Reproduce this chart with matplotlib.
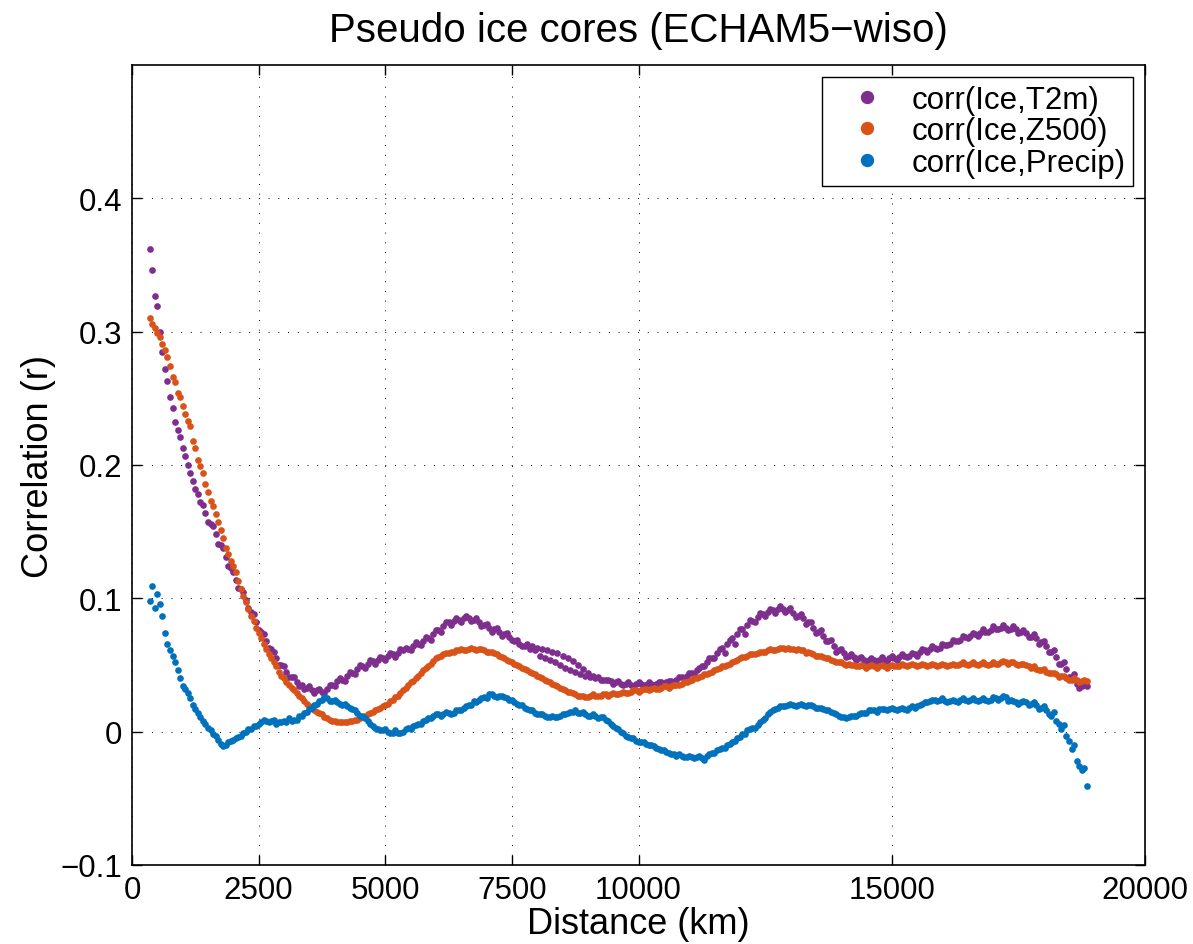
import numpy as np
import matplotlib
matplotlib.use('Agg')
import matplotlib.pyplot as plt

plt.rcParams['font.family'] = ['Liberation Sans', 'DejaVu Sans']

# distance of each pseudo ice core (km), two interleaved sets of sites
distance_a = [
    350, 450, 550, 650, 750, 850, 950, 1050, 1150, 1250,
    1350, 1450, 1550, 1650, 1750, 1850, 1950, 2050, 2150, 2250,
    2350, 2450, 2550, 2650, 2750, 2850, 2950, 3050, 3150, 3250,
    3350, 3450, 3550, 3650, 3750, 3850, 3950, 4050, 4150, 4250,
    4350, 4450, 4550, 4650, 4750, 4850, 4950, 5050, 5150, 5250,
    5350, 5450, 5550, 5650, 5750, 5850, 5950, 6050, 6150, 6250,
    6350, 6450, 6550, 6650, 6750, 6850, 6950, 7050, 7150, 7250,
    7350, 7450, 7550, 7650, 7750, 7850, 7950, 8050, 8150, 8250,
    8350, 8450, 8550, 8650, 8750, 8850, 8950, 9050, 9150, 9250,
    9350, 9450, 9550, 9650, 9750, 9850, 9950, 10050, 10150, 10250,
    10350, 10450, 10550, 10650, 10750, 10850, 10950, 11050, 11150, 11250,
    11350, 11450, 11550, 11650, 11750, 11850, 11950, 12050, 12150, 12250,
    12350, 12450, 12550, 12650, 12750, 12850, 12950, 13050, 13150, 13250,
    13350, 13450, 13550, 13650, 13750, 13850, 13950, 14050, 14150, 14250,
    14350, 14450, 14550, 14650, 14750, 14850, 14950, 15050, 15150, 15250,
    15350, 15450, 15550, 15650, 15750, 15850, 15950, 16050, 16150, 16250,
    16350, 16450, 16550, 16650, 16750, 16850, 16950, 17050, 17150, 17250,
    17350, 17450, 17550, 17650, 17750, 17850, 17950, 18050, 18150, 18250,
    18350, 18450, 18550, 18650, 18750, 18850,
]
distance_b = [
    400, 500, 600, 700, 800, 900, 1000, 1100, 1200, 1300,
    1400, 1500, 1600, 1700, 1800, 1900, 2000, 2100, 2200, 2300,
    2400, 2500, 2600, 2700, 2800, 2900, 3000, 3100, 3200, 3300,
    3400, 3500, 3600, 3700, 3800, 3900, 4000, 4100, 4200, 4300,
    4400, 4500, 4600, 4700, 4800, 4900, 5000, 5100, 5200, 5300,
    5400, 5500, 5600, 5700, 5800, 5900, 6000, 6100, 6200, 6300,
    6400, 6500, 6600, 6700, 6800, 6900, 7000, 7100, 7200, 7300,
    7400, 7500, 7600, 7700, 7800, 7900, 8000, 8100, 8200, 8300,
    8400, 8500, 8600, 8700, 8800, 8900, 9000, 9100, 9200, 9300,
    9400, 9500, 9600, 9700, 9800, 9900, 10000, 10100, 10200, 10300,
    10400, 10500, 10600, 10700, 10800, 10900, 11000, 11100, 11200, 11300,
    11400, 11500, 11600, 11700, 11800, 11900, 12000, 12100, 12200, 12300,
    12400, 12500, 12600, 12700, 12800, 12900, 13000, 13100, 13200, 13300,
    13400, 13500, 13600, 13700, 13800, 13900, 14000, 14100, 14200, 14300,
    14400, 14500, 14600, 14700, 14800, 14900, 15000, 15100, 15200, 15300,
    15400, 15500, 15600, 15700, 15800, 15900, 16000, 16100, 16200, 16300,
    16400, 16500, 16600, 16700, 16800, 16900, 17000, 17100, 17200, 17300,
    17400, 17500, 17600, 17700, 17800, 17900, 18000, 18100, 18200, 18300,
    18400, 18500, 18600, 18700, 18800,
]

# corr(Ice,T2m)
t2m_a = [
    0.362, 0.327, 0.300, 0.272, 0.251, 0.232, 0.221, 0.207, 0.194, 0.182,
    0.172, 0.164, 0.156, 0.148, 0.140, 0.131, 0.123, 0.114, 0.107, 0.099,
    0.090, 0.082, 0.075, 0.068, 0.062, 0.055, 0.050, 0.045, 0.041, 0.037,
    0.035, 0.033, 0.031, 0.031, 0.030, 0.032, 0.035, 0.038, 0.039, 0.042,
    0.044, 0.047, 0.049, 0.051, 0.053, 0.054, 0.055, 0.057, 0.058, 0.059,
    0.061, 0.062, 0.064, 0.066, 0.068, 0.070, 0.073, 0.076, 0.079, 0.082,
    0.083, 0.084, 0.085, 0.085, 0.084, 0.082, 0.080, 0.078, 0.077, 0.075,
    0.073, 0.071, 0.068, 0.066, 0.064, 0.062, 0.061, 0.057, 0.055, 0.054,
    0.052, 0.050, 0.048, 0.046, 0.045, 0.043, 0.042, 0.041, 0.040, 0.039,
    0.039, 0.038, 0.037, 0.036, 0.036, 0.035, 0.036, 0.036, 0.035, 0.036,
    0.036, 0.037, 0.037, 0.038, 0.039, 0.041, 0.042, 0.044, 0.046, 0.049,
    0.052, 0.055, 0.059, 0.063, 0.066, 0.070, 0.073, 0.077, 0.080, 0.083,
    0.086, 0.088, 0.090, 0.091, 0.092, 0.092, 0.091, 0.089, 0.087, 0.085,
    0.082, 0.078, 0.075, 0.072, 0.068, 0.064, 0.061, 0.059, 0.057, 0.056,
    0.055, 0.054, 0.054, 0.054, 0.054, 0.054, 0.055, 0.055, 0.056, 0.057,
    0.057, 0.058, 0.060, 0.061, 0.062, 0.063, 0.063, 0.065, 0.066, 0.068,
    0.069, 0.071, 0.072, 0.073, 0.074, 0.075, 0.076, 0.077, 0.078, 0.078,
    0.077, 0.077, 0.075, 0.074, 0.071, 0.070, 0.067, 0.064, 0.060, 0.056,
    0.051, 0.047, 0.041, 0.036, 0.034, 0.034,
]
t2m_b = [
    0.346, 0.319, 0.285, 0.263, 0.243, 0.226, 0.213, 0.200, 0.188, 0.178,
    0.170, 0.157, 0.154, 0.141, 0.138, 0.124, 0.120, 0.108, 0.105, 0.093,
    0.088, 0.076, 0.073, 0.063, 0.060, 0.050, 0.049, 0.041, 0.041, 0.034,
    0.032, 0.034, 0.029, 0.032, 0.029, 0.035, 0.034, 0.040, 0.038, 0.045,
    0.043, 0.050, 0.048, 0.054, 0.051, 0.056, 0.054, 0.059, 0.056, 0.062,
    0.063, 0.061, 0.067, 0.065, 0.071, 0.069, 0.076, 0.075, 0.082, 0.080,
    0.085, 0.082, 0.087, 0.083, 0.085, 0.079, 0.081, 0.075, 0.078, 0.072,
    0.074, 0.069, 0.069, 0.064, 0.066, 0.064, 0.063, 0.062, 0.061, 0.060,
    0.059, 0.057, 0.055, 0.053, 0.050, 0.047, 0.044, 0.042, 0.041, 0.039,
    0.039, 0.036, 0.038, 0.035, 0.037, 0.034, 0.037, 0.035, 0.037, 0.035,
    0.037, 0.036, 0.038, 0.037, 0.041, 0.040, 0.044, 0.043, 0.048, 0.049,
    0.055, 0.055, 0.062, 0.059, 0.069, 0.066, 0.077, 0.073, 0.084, 0.082,
    0.089, 0.087, 0.092, 0.089, 0.094, 0.090, 0.093, 0.086, 0.088, 0.081,
    0.082, 0.074, 0.076, 0.068, 0.069, 0.060, 0.062, 0.056, 0.058, 0.054,
    0.056, 0.052, 0.055, 0.053, 0.056, 0.053, 0.057, 0.054, 0.058, 0.056,
    0.059, 0.057, 0.062, 0.060, 0.064, 0.062, 0.066, 0.065, 0.069, 0.068,
    0.072, 0.070, 0.074, 0.072, 0.077, 0.075, 0.079, 0.077, 0.080, 0.076,
    0.079, 0.074, 0.076, 0.071, 0.073, 0.066, 0.068, 0.060, 0.061, 0.051,
    0.052, 0.041, 0.043, 0.033, 0.036,
]

# corr(Ice,Z500)
z500_a = [
    0.310, 0.303, 0.296, 0.286, 0.274, 0.262, 0.251, 0.238, 0.229, 0.213,
    0.199, 0.186, 0.173, 0.163, 0.151, 0.138, 0.128, 0.120, 0.107, 0.097,
    0.087, 0.078, 0.070, 0.062, 0.055, 0.049, 0.042, 0.037, 0.033, 0.029,
    0.025, 0.021, 0.018, 0.015, 0.013, 0.010, 0.008, 0.007, 0.007, 0.007,
    0.008, 0.009, 0.011, 0.013, 0.015, 0.017, 0.019, 0.021, 0.024, 0.027,
    0.031, 0.035, 0.038, 0.042, 0.046, 0.049, 0.053, 0.056, 0.058, 0.059,
    0.060, 0.061, 0.061, 0.062, 0.062, 0.062, 0.061, 0.060, 0.059, 0.057,
    0.055, 0.053, 0.051, 0.049, 0.047, 0.045, 0.043, 0.041, 0.039, 0.037,
    0.035, 0.033, 0.031, 0.030, 0.028, 0.027, 0.026, 0.027, 0.027, 0.027,
    0.028, 0.028, 0.028, 0.029, 0.029, 0.030, 0.031, 0.031, 0.032, 0.032,
    0.032, 0.033, 0.034, 0.034, 0.035, 0.036, 0.037, 0.039, 0.040, 0.042,
    0.043, 0.045, 0.047, 0.049, 0.050, 0.052, 0.054, 0.056, 0.057, 0.058,
    0.059, 0.060, 0.061, 0.061, 0.062, 0.063, 0.063, 0.062, 0.062, 0.061,
    0.060, 0.058, 0.057, 0.056, 0.055, 0.053, 0.052, 0.051, 0.051, 0.050,
    0.049, 0.049, 0.049, 0.049, 0.049, 0.049, 0.049, 0.049, 0.049, 0.050,
    0.050, 0.050, 0.050, 0.050, 0.050, 0.050, 0.050, 0.050, 0.050, 0.050,
    0.051, 0.051, 0.051, 0.051, 0.051, 0.051, 0.051, 0.051, 0.052, 0.052,
    0.052, 0.051, 0.051, 0.050, 0.048, 0.047, 0.046, 0.045, 0.044, 0.043,
    0.042, 0.040, 0.039, 0.039, 0.038, 0.038,
]
z500_b = [
    0.306, 0.299, 0.291, 0.281, 0.266, 0.254, 0.244, 0.233, 0.218, 0.204,
    0.194, 0.180, 0.169, 0.157, 0.145, 0.133, 0.124, 0.113, 0.102, 0.092,
    0.083, 0.074, 0.066, 0.058, 0.052, 0.045, 0.040, 0.035, 0.031, 0.027,
    0.023, 0.019, 0.016, 0.014, 0.011, 0.009, 0.008, 0.007, 0.007, 0.008,
    0.009, 0.010, 0.012, 0.014, 0.016, 0.018, 0.020, 0.023, 0.026, 0.029,
    0.033, 0.037, 0.040, 0.044, 0.048, 0.051, 0.055, 0.057, 0.059, 0.060,
    0.061, 0.062, 0.061, 0.063, 0.061, 0.062, 0.060, 0.060, 0.058, 0.056,
    0.054, 0.052, 0.050, 0.048, 0.046, 0.044, 0.042, 0.040, 0.038, 0.036,
    0.034, 0.032, 0.030, 0.029, 0.027, 0.027, 0.026, 0.028, 0.027, 0.028,
    0.027, 0.029, 0.028, 0.030, 0.029, 0.031, 0.030, 0.032, 0.031, 0.033,
    0.032, 0.034, 0.033, 0.035, 0.035, 0.037, 0.038, 0.040, 0.041, 0.043,
    0.044, 0.046, 0.048, 0.049, 0.051, 0.053, 0.055, 0.056, 0.058, 0.058,
    0.060, 0.060, 0.062, 0.061, 0.063, 0.062, 0.062, 0.061, 0.061, 0.059,
    0.059, 0.057, 0.057, 0.055, 0.054, 0.052, 0.052, 0.050, 0.050, 0.049,
    0.050, 0.048, 0.050, 0.048, 0.050, 0.048, 0.050, 0.049, 0.051, 0.049,
    0.051, 0.049, 0.051, 0.049, 0.051, 0.049, 0.051, 0.049, 0.051, 0.050,
    0.052, 0.050, 0.052, 0.050, 0.052, 0.050, 0.052, 0.051, 0.053, 0.051,
    0.052, 0.050, 0.051, 0.049, 0.049, 0.046, 0.047, 0.044, 0.044, 0.041,
    0.042, 0.039, 0.040, 0.037, 0.039,
]

# corr(Ice,Precip)
precip_a = [
    0.098, 0.093, 0.096, 0.074, 0.061, 0.052, 0.040, 0.032, 0.025, 0.017,
    0.011, 0.006, 0.001, -0.003, -0.009, -0.010, -0.007, -0.005, -0.003, 0.000,
    0.002, 0.004, 0.007, 0.008, 0.008, 0.006, 0.007, 0.007, 0.008, 0.009,
    0.012, 0.015, 0.018, 0.021, 0.024, 0.025, 0.023, 0.022, 0.020, 0.019,
    0.017, 0.014, 0.012, 0.008, 0.004, 0.002, 0.001, 0.000, -0.001, -0.001,
    0.000, 0.003, 0.004, 0.006, 0.008, 0.010, 0.012, 0.013, 0.013, 0.014,
    0.014, 0.016, 0.018, 0.020, 0.023, 0.024, 0.026, 0.028, 0.027, 0.027,
    0.026, 0.024, 0.022, 0.020, 0.018, 0.016, 0.014, 0.013, 0.012, 0.011,
    0.011, 0.012, 0.013, 0.015, 0.016, 0.014, 0.013, 0.012, 0.012, 0.011,
    0.009, 0.006, 0.003, 0.000, -0.003, -0.005, -0.007, -0.008, -0.009, -0.010,
    -0.012, -0.014, -0.015, -0.017, -0.018, -0.018, -0.019, -0.019, -0.019, -0.020,
    -0.018, -0.016, -0.014, -0.012, -0.010, -0.008, -0.005, -0.002, 0.001, 0.003,
    0.005, 0.009, 0.013, 0.016, 0.018, 0.019, 0.020, 0.020, 0.020, 0.020,
    0.020, 0.019, 0.018, 0.017, 0.016, 0.014, 0.012, 0.011, 0.011, 0.012,
    0.013, 0.014, 0.016, 0.016, 0.017, 0.017, 0.017, 0.017, 0.017, 0.017,
    0.018, 0.018, 0.020, 0.022, 0.023, 0.024, 0.024, 0.023, 0.023, 0.023,
    0.024, 0.024, 0.024, 0.024, 0.024, 0.024, 0.024, 0.025, 0.025, 0.026,
    0.024, 0.022, 0.022, 0.022, 0.021, 0.020, 0.018, 0.016, 0.012, 0.008,
    0.002, -0.003, -0.013, -0.022, -0.029, -0.041,
]
precip_b = [
    0.109, 0.103, 0.087, 0.066, 0.057, 0.046, 0.034, 0.029, 0.020, 0.014,
    0.008, 0.003, -0.002, -0.006, -0.011, -0.008, -0.006, -0.004, -0.001, 0.002,
    0.004, 0.006, 0.009, 0.007, 0.009, 0.007, 0.008, 0.010, 0.009, 0.012,
    0.014, 0.017, 0.020, 0.023, 0.026, 0.023, 0.024, 0.021, 0.021, 0.018,
    0.016, 0.012, 0.010, 0.006, 0.003, 0.001, 0.002, -0.001, 0.001, -0.001,
    0.002, 0.002, 0.005, 0.006, 0.009, 0.010, 0.013, 0.012, 0.015, 0.013,
    0.016, 0.016, 0.019, 0.020, 0.022, 0.025, 0.025, 0.028, 0.026, 0.027,
    0.025, 0.024, 0.021, 0.020, 0.017, 0.016, 0.013, 0.013, 0.011, 0.012,
    0.011, 0.013, 0.014, 0.015, 0.014, 0.015, 0.012, 0.013, 0.010, 0.011,
    0.008, 0.004, 0.002, -0.001, -0.004, -0.005, -0.008, -0.008, -0.010, -0.011,
    -0.013, -0.014, -0.016, -0.017, -0.017, -0.019, -0.018, -0.020, -0.018, -0.021,
    -0.017, -0.016, -0.013, -0.012, -0.009, -0.007, -0.004, -0.002, 0.002, 0.003,
    0.007, 0.010, 0.015, 0.017, 0.019, 0.019, 0.021, 0.019, 0.021, 0.019,
    0.020, 0.018, 0.018, 0.016, 0.015, 0.013, 0.011, 0.010, 0.012, 0.012,
    0.014, 0.014, 0.016, 0.015, 0.017, 0.016, 0.018, 0.016, 0.018, 0.016,
    0.019, 0.019, 0.021, 0.022, 0.024, 0.023, 0.025, 0.022, 0.024, 0.022,
    0.025, 0.023, 0.025, 0.023, 0.025, 0.023, 0.026, 0.024, 0.027, 0.023,
    0.023, 0.021, 0.023, 0.020, 0.022, 0.017, 0.019, 0.013, 0.015, 0.006,
    0.005, -0.007, -0.010, -0.026, -0.027,
]

series_labels = ['corr(Ice,T2m)', 'corr(Ice,Z500)', 'corr(Ice,Precip)']
series_colors = ['#7E2F8E', '#D95319', '#0072BD']

x_ticks = [0, 2500, 5000, 7500, 10000, 15000, 20000]
y_ticks = [-0.1, 0, 0.1, 0.2, 0.3, 0.4]
y_ticklabels = ['\u22120.1', '0', '0.1', '0.2', '0.3', '0.4']

fig = plt.figure(figsize=(11.93, 9.45), dpi=100)
ax = fig.add_axes([132 / 1193, 79 / 945, 1013 / 1193, 800 / 945])

series = [(t2m_a, t2m_b), (z500_a, z500_b), (precip_a, precip_b)]
for (va, vb), lab, col in zip(series, series_labels, series_colors):
    ax.plot(distance_a, va, 'o', color=col, markersize=4.8, markeredgewidth=0, label=lab)
    ax.plot(distance_b, vb, 'o', color=col, markersize=4.8, markeredgewidth=0)

ax.set_xlim(0, 20000)
ax.set_ylim(-0.1, 0.5)
ax.set_xticks(x_ticks)
ax.set_xticklabels([str(t) for t in x_ticks])
ax.set_yticks(y_ticks)
ax.set_yticklabels(y_ticklabels)

ax.grid(True, color='black', linestyle=(0, (1, 9)), linewidth=0.7)
ax.tick_params(direction='in', length=7, width=1, top=True, right=True,
               labelsize=22.5, pad=7)
for sp in ax.spines.values():
    sp.set_linewidth(1.2)

ax.set_xlabel('Distance (km)', fontsize=26, labelpad=1)
ax.set_ylabel('Correlation (r)', fontsize=26, labelpad=3)
ax.set_title('Pseudo ice cores (ECHAM5\u2212wiso)', fontsize=29, pad=17)

leg = ax.legend(loc='upper right', fontsize=22.5, markerscale=2.0, fancybox=False,
                framealpha=1, edgecolor='black', borderaxespad=0.38,
                handlelength=2.4, handletextpad=0.2, labelspacing=0.05,
                borderpad=0.25)
leg.get_frame().set_linewidth(1.0)

fig.savefig('out.png', dpi=100)
